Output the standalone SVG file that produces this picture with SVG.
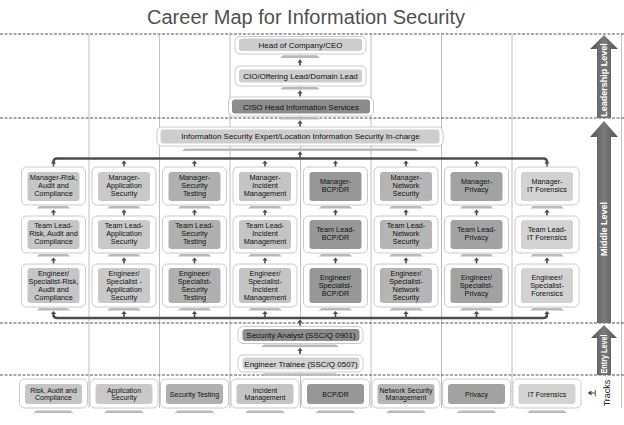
<svg xmlns="http://www.w3.org/2000/svg" xmlns:xlink="http://www.w3.org/1999/xlink" width="624" height="425" viewBox="0 0 624 425">
<defs>
<style>
.o{fill:#fff;stroke:#bdbdbd;stroke-width:0.8}
.t{font-family:"Liberation Sans",Arial,sans-serif;font-size:7.3px;fill:#111;text-anchor:middle}
.tb{font-family:"Liberation Sans",Arial,sans-serif;font-size:8px;fill:#111;text-anchor:middle}
.tr{font-family:"Liberation Sans",Arial,sans-serif;font-size:7px;fill:#111;text-anchor:middle}
.lv{font-family:"Liberation Sans",Arial,sans-serif;font-size:9px;font-weight:bold;fill:#fff;text-anchor:middle}
.ped{fill:#b9b9b9}
.ar{fill:#4a4a4a}
.vl{stroke:#b0b0b0;stroke-width:0.8}
.dl{stroke:#555;stroke-width:1;stroke-dasharray:3,1.5}
.tk{fill:none;stroke:#4d4d4d;stroke-width:2.4}
.c1{fill:#c6c6c6}.c2{fill:#c9c9c9}.c3{fill:#b0b0b0}.c4{fill:#c4c4c4}
.c5{fill:#979797}.c6{fill:#b5b5b5}.c7{fill:#a2a2a2}.c8{fill:#d2d2d2}
.lt{fill:#cdcdcd}.dk{fill:#8c8c8c}
</style>
<path id="ua" d="M0,0 L2.7,3 H0.8 V6 H-0.8 V3 H-2.7 Z"/>
<polygon id="pd" points="-14,0 14,0 17,2.5 -17,2.5"/>
<polygon id="pdt" points="-17,0 17,0 20,2.5 -20,2.5"/>
<linearGradient id="ag" x1="0" y1="0" x2="1" y2="0">
<stop offset="0" stop-color="#555"/><stop offset="0.5" stop-color="#7a7a7a"/><stop offset="1" stop-color="#555"/>
</linearGradient>
</defs>
<rect width="624" height="425" fill="#fff"/>
<text x="306" y="24" font-family="'Liberation Sans',Arial,sans-serif" font-size="20" fill="#505050" text-anchor="middle">Career Map for Information Security</text>

<g id="grid">
<line class="vl" x1="89" y1="34" x2="89" y2="408"/>
<line class="vl" x1="159.5" y1="34" x2="159.5" y2="408"/>
<line class="vl" x1="230" y1="34" x2="230" y2="408"/>
<line class="vl" x1="300.5" y1="34" x2="300.5" y2="408"/>
<line class="vl" x1="371" y1="34" x2="371" y2="408"/>
<line class="vl" x1="441.5" y1="34" x2="441.5" y2="408"/>
<line class="vl" x1="512" y1="34" x2="512" y2="408"/>
<line class="vl" x1="621.5" y1="34" x2="621.5" y2="408"/>
<line class="dl" x1="0" y1="34" x2="624" y2="34"/>
<line class="dl" x1="0" y1="118" x2="624" y2="118"/>
<line class="dl" x1="0" y1="323" x2="624" y2="323"/>
<line class="dl" x1="0" y1="375" x2="624" y2="375"/>
</g>

<g id="levels">
<polygon fill="url(#ag)" points="604,35 618,49 611,49 611,118 597,118 597,49 590,49"/>
<polygon fill="url(#ag)" points="604,121 618,137 611,137 611,323 597,323 597,137 590,137"/>
<polygon fill="url(#ag)" points="604,325 617,338 611,338 611,375 597,375 597,338 591,338"/>
<text class="lv" transform="translate(607.2,80) rotate(-90)">Leadership Level</text>
<text class="lv" transform="translate(607.2,229) rotate(-90)">Middle Level</text>
<text class="lv" transform="translate(606.8,354) rotate(-90)" font-size="8" textLength="39" lengthAdjust="spacingAndGlyphs">Entry Level</text>
<text transform="translate(609.5,393) rotate(-90)" font-family="'Liberation Sans',Arial,sans-serif" font-size="9" fill="#222" text-anchor="middle">Tracks</text>
<path class="ar" d="M587.5,393 L591.5,390.5 V392.5 H595 V393.5 H591.5 V395.5 Z"/>
<line x1="595.3" y1="390" x2="595.3" y2="396.5" stroke="#4a4a4a" stroke-width="0.9"/>
</g>

<g id="connectors">
<path class="tk" d="M53.5,162 Q53.5,158.5 57,158.5 H543.5 Q547,158.5 547,162"/>
<path class="tk" d="M53.5,314.5 Q53.5,318 57,318 H543.5 Q547,318 547,314.5"/>
<use href="#ua" class="ar" x="300" y="59.5"/>
<use href="#ua" class="ar" x="300" y="90.5"/>
<use href="#ua" class="ar" x="300" y="120.5"/>
<use href="#ua" class="ar" x="300" y="151.5"/>
<use href="#ua" class="ar" x="300" y="319.5"/>
<use href="#ua" class="ar" x="300" y="348"/>
<use href="#ua" class="ar" x="53.5" y="160.5"/><use href="#ua" class="ar" x="124" y="160.5"/><use href="#ua" class="ar" x="194.5" y="160.5"/><use href="#ua" class="ar" x="265" y="160.5"/><use href="#ua" class="ar" x="335.5" y="160.5"/><use href="#ua" class="ar" x="406" y="160.5"/><use href="#ua" class="ar" x="476.5" y="160.5"/><use href="#ua" class="ar" x="547" y="160.5"/>
<use href="#ua" class="ar" x="53.5" y="209.5"/><use href="#ua" class="ar" x="124" y="209.5"/><use href="#ua" class="ar" x="194.5" y="209.5"/><use href="#ua" class="ar" x="265" y="209.5"/><use href="#ua" class="ar" x="335.5" y="209.5"/><use href="#ua" class="ar" x="406" y="209.5"/><use href="#ua" class="ar" x="476.5" y="209.5"/><use href="#ua" class="ar" x="547" y="209.5"/>
<use href="#ua" class="ar" x="53.5" y="257.5"/><use href="#ua" class="ar" x="124" y="257.5"/><use href="#ua" class="ar" x="194.5" y="257.5"/><use href="#ua" class="ar" x="265" y="257.5"/><use href="#ua" class="ar" x="335.5" y="257.5"/><use href="#ua" class="ar" x="406" y="257.5"/><use href="#ua" class="ar" x="476.5" y="257.5"/><use href="#ua" class="ar" x="547" y="257.5"/>
<use href="#ua" class="ar" x="53.5" y="311"/><use href="#ua" class="ar" x="124" y="311"/><use href="#ua" class="ar" x="194.5" y="311"/><use href="#ua" class="ar" x="265" y="311"/><use href="#ua" class="ar" x="335.5" y="311"/><use href="#ua" class="ar" x="406" y="311"/><use href="#ua" class="ar" x="476.5" y="311"/><use href="#ua" class="ar" x="547" y="311"/>
</g>

<g id="ceo">
<rect class="o" x="235" y="36.5" width="131" height="17.5" rx="5"/>
<rect class="lt" x="239" y="38.5" width="123" height="12.5" rx="3"/>
<text class="tb" x="300.5" y="47.8">Head of Company/CEO</text>
<polygon class="ped" points="283,55.3 317,55.3 320,58 280,58"/>
</g>
<g id="cio">
<rect class="o" x="235" y="66" width="131" height="20" rx="5"/>
<rect class="lt" x="239" y="69.5" width="123" height="13" rx="3"/>
<text class="tb" x="300.5" y="78.8">CIO/Offering Lead/Domain Lead</text>
<polygon class="ped" points="283,87 317,87 320,89.5 280,89.5"/>
</g>
<g id="ciso">
<rect class="o" x="228.5" y="97" width="145" height="19" rx="5"/>
<rect class="dk" x="232" y="99.5" width="138" height="14" rx="3"/>
<text class="tb" x="301" y="109.5">CISO Head Information Services</text>
<polygon class="ped" points="283,117 317,117 320,119.5 280,119.5"/>
</g>
<g id="expert">
<rect class="o" x="157" y="127" width="286" height="19" rx="5"/>
<rect class="lt" x="160.5" y="129.5" width="279" height="14" rx="3"/>
<text class="tb" x="300.5" y="139.3">Information Security Expert/Location Information Security In-charge</text>
<polygon class="ped" points="185,148.5 415,148.5 418,151 182,151"/>
</g>

<g id="col1">
<g id="mgr1"><rect class="o" x="21.5" y="167" width="64" height="38" rx="5"/><rect class="c1" x="27.5" y="172" width="52" height="29" rx="3"/>
<text class="t"><tspan x="53.5" y="180.3">Manager-Risk,</tspan><tspan x="53.5" y="188.1">Audit and</tspan><tspan x="53.5" y="195.9">Compliance</tspan></text><use href="#pd" class="ped" x="53.5" y="206"/></g>
<g id="tl1"><rect class="o" x="21.5" y="216" width="64" height="37" rx="5"/><rect class="c1" x="27.5" y="220" width="52" height="29" rx="3"/>
<text class="t"><tspan x="53.5" y="228.3">Team Lead-</tspan><tspan x="53.5" y="236.1">Risk, Audit and</tspan><tspan x="53.5" y="243.9">Compliance</tspan></text><use href="#pd" class="ped" x="53.5" y="254"/></g>
<g id="eng1"><rect class="o" x="21.5" y="264" width="64" height="43" rx="5"/><rect class="c1" x="27.5" y="268" width="52" height="35" rx="3"/>
<text class="t"><tspan x="53.5" y="276.4">Engineer/</tspan><tspan x="53.5" y="284.2">Specialist-Risk,</tspan><tspan x="53.5" y="292">Audit and</tspan><tspan x="53.5" y="299.8">Compliance</tspan></text><use href="#pd" class="ped" x="53.5" y="308"/></g>
</g>
<g id="col2">
<g id="mgr2"><rect class="o" x="92" y="167" width="64" height="38" rx="5"/><rect class="c2" x="98" y="172" width="52" height="29" rx="3"/>
<text class="t"><tspan x="124" y="180.3">Manager-</tspan><tspan x="124" y="188.1">Application</tspan><tspan x="124" y="195.9">Security</tspan></text><use href="#pd" class="ped" x="124" y="206"/></g>
<g id="tl2"><rect class="o" x="92" y="216" width="64" height="37" rx="5"/><rect class="c2" x="98" y="220" width="52" height="29" rx="3"/>
<text class="t"><tspan x="124" y="228.3">Team Lead-</tspan><tspan x="124" y="236.1">Application</tspan><tspan x="124" y="243.9">Security</tspan></text><use href="#pd" class="ped" x="124" y="254"/></g>
<g id="eng2"><rect class="o" x="92" y="264" width="64" height="43" rx="5"/><rect class="c2" x="98" y="268" width="52" height="35" rx="3"/>
<text class="t"><tspan x="124" y="276.4">Engineer/</tspan><tspan x="124" y="284.2">Specialist -</tspan><tspan x="124" y="292">Application</tspan><tspan x="124" y="299.8">Security</tspan></text><use href="#pd" class="ped" x="124" y="308"/></g>
</g>
<g id="col3">
<g id="mgr3"><rect class="o" x="162.5" y="167" width="64" height="38" rx="5"/><rect class="c3" x="168.5" y="172" width="52" height="29" rx="3"/>
<text class="t"><tspan x="194.5" y="180.3">Manager-</tspan><tspan x="194.5" y="188.1">Security</tspan><tspan x="194.5" y="195.9">Testing</tspan></text><use href="#pd" class="ped" x="194.5" y="206"/></g>
<g id="tl3"><rect class="o" x="162.5" y="216" width="64" height="37" rx="5"/><rect class="c3" x="168.5" y="220" width="52" height="29" rx="3"/>
<text class="t"><tspan x="194.5" y="228.3">Team Lead-</tspan><tspan x="194.5" y="236.1">Security</tspan><tspan x="194.5" y="243.9">Testing</tspan></text><use href="#pd" class="ped" x="194.5" y="254"/></g>
<g id="eng3"><rect class="o" x="162.5" y="264" width="64" height="43" rx="5"/><rect class="c3" x="168.5" y="268" width="52" height="35" rx="3"/>
<text class="t"><tspan x="194.5" y="276.4">Engineer/</tspan><tspan x="194.5" y="284.2">Specialist-</tspan><tspan x="194.5" y="292">Security</tspan><tspan x="194.5" y="299.8">Testing</tspan></text><use href="#pd" class="ped" x="194.5" y="308"/></g>
</g>
<g id="col4">
<g id="mgr4"><rect class="o" x="233" y="167" width="64" height="38" rx="5"/><rect class="c4" x="239" y="172" width="52" height="29" rx="3"/>
<text class="t"><tspan x="265" y="180.3">Manager-</tspan><tspan x="265" y="188.1">Incident</tspan><tspan x="265" y="195.9">Management</tspan></text><use href="#pd" class="ped" x="265" y="206"/></g>
<g id="tl4"><rect class="o" x="233" y="216" width="64" height="37" rx="5"/><rect class="c4" x="239" y="220" width="52" height="29" rx="3"/>
<text class="t"><tspan x="265" y="228.3">Team Lead-</tspan><tspan x="265" y="236.1">Incident</tspan><tspan x="265" y="243.9">Management</tspan></text><use href="#pd" class="ped" x="265" y="254"/></g>
<g id="eng4"><rect class="o" x="233" y="264" width="64" height="43" rx="5"/><rect class="c4" x="239" y="268" width="52" height="35" rx="3"/>
<text class="t"><tspan x="265" y="276.4">Engineer/</tspan><tspan x="265" y="284.2">Specialist-</tspan><tspan x="265" y="292">Incident</tspan><tspan x="265" y="299.8">Management</tspan></text><use href="#pd" class="ped" x="265" y="308"/></g>
</g>
<g id="col5">
<g id="mgr5"><rect class="o" x="303.5" y="167" width="64" height="38" rx="5"/><rect class="c5" x="309.5" y="172" width="52" height="29" rx="3"/>
<text class="t"><tspan x="335.5" y="184.2">Manager-</tspan><tspan x="335.5" y="192">BCP/DR</tspan></text><use href="#pd" class="ped" x="335.5" y="206"/></g>
<g id="tl5"><rect class="o" x="303.5" y="216" width="64" height="37" rx="5"/><rect class="c5" x="309.5" y="220" width="52" height="29" rx="3"/>
<text class="t"><tspan x="335.5" y="232.2">Team Lead-</tspan><tspan x="335.5" y="240">BCP/DR</tspan></text><use href="#pd" class="ped" x="335.5" y="254"/></g>
<g id="eng5"><rect class="o" x="303.5" y="264" width="64" height="43" rx="5"/><rect class="c5" x="309.5" y="268" width="52" height="35" rx="3"/>
<text class="t"><tspan x="335.5" y="280.3">Engineer/</tspan><tspan x="335.5" y="288.1">Specialist-</tspan><tspan x="335.5" y="295.9">BCP/DR</tspan></text><use href="#pd" class="ped" x="335.5" y="308"/></g>
</g>
<g id="col6">
<g id="mgr6"><rect class="o" x="374" y="167" width="64" height="38" rx="5"/><rect class="c6" x="380" y="172" width="52" height="29" rx="3"/>
<text class="t"><tspan x="406" y="180.3">Manager-</tspan><tspan x="406" y="188.1">Network</tspan><tspan x="406" y="195.9">Security</tspan></text><use href="#pd" class="ped" x="406" y="206"/></g>
<g id="tl6"><rect class="o" x="374" y="216" width="64" height="37" rx="5"/><rect class="c6" x="380" y="220" width="52" height="29" rx="3"/>
<text class="t"><tspan x="406" y="228.3">Team Lead-</tspan><tspan x="406" y="236.1">Network</tspan><tspan x="406" y="243.9">Security</tspan></text><use href="#pd" class="ped" x="406" y="254"/></g>
<g id="eng6"><rect class="o" x="374" y="264" width="64" height="43" rx="5"/><rect class="c6" x="380" y="268" width="52" height="35" rx="3"/>
<text class="t"><tspan x="406" y="276.4">Engineer/</tspan><tspan x="406" y="284.2">Specialist-</tspan><tspan x="406" y="292">Network</tspan><tspan x="406" y="299.8">Security</tspan></text><use href="#pd" class="ped" x="406" y="308"/></g>
</g>
<g id="col7">
<g id="mgr7"><rect class="o" x="444.5" y="167" width="64" height="38" rx="5"/><rect class="c7" x="450.5" y="172" width="52" height="29" rx="3"/>
<text class="t"><tspan x="476.5" y="184.2">Manager-</tspan><tspan x="476.5" y="192">Privacy</tspan></text><use href="#pd" class="ped" x="476.5" y="206"/></g>
<g id="tl7"><rect class="o" x="444.5" y="216" width="64" height="37" rx="5"/><rect class="c7" x="450.5" y="220" width="52" height="29" rx="3"/>
<text class="t"><tspan x="476.5" y="232.2">Team Lead-</tspan><tspan x="476.5" y="240">Privacy</tspan></text><use href="#pd" class="ped" x="476.5" y="254"/></g>
<g id="eng7"><rect class="o" x="444.5" y="264" width="64" height="43" rx="5"/><rect class="c7" x="450.5" y="268" width="52" height="35" rx="3"/>
<text class="t"><tspan x="476.5" y="280.3">Engineer/</tspan><tspan x="476.5" y="288.1">Specialist-</tspan><tspan x="476.5" y="295.9">Privacy</tspan></text><use href="#pd" class="ped" x="476.5" y="308"/></g>
</g>
<g id="col8">
<g id="mgr8"><rect class="o" x="515" y="167" width="64" height="38" rx="5"/><rect class="c8" x="521" y="172" width="52" height="29" rx="3"/>
<text class="t"><tspan x="547" y="184.2">Manager-</tspan><tspan x="547" y="192">IT Forensics</tspan></text><use href="#pd" class="ped" x="547" y="206"/></g>
<g id="tl8"><rect class="o" x="515" y="216" width="64" height="37" rx="5"/><rect class="c8" x="521" y="220" width="52" height="29" rx="3"/>
<text class="t"><tspan x="547" y="232.2">Team Lead-</tspan><tspan x="547" y="240">IT Forensics</tspan></text><use href="#pd" class="ped" x="547" y="254"/></g>
<g id="eng8"><rect class="o" x="515" y="264" width="64" height="43" rx="5"/><rect class="c8" x="521" y="268" width="52" height="35" rx="3"/>
<text class="t"><tspan x="547" y="280.3">Engineer/</tspan><tspan x="547" y="288.1">Specialist-</tspan><tspan x="547" y="295.9">Forensics</tspan></text><use href="#pd" class="ped" x="547" y="308"/></g>
</g>

<g id="analyst">
<rect class="o" x="238" y="326.5" width="125" height="17" rx="5"/>
<rect class="dk" x="242.5" y="329" width="117" height="12" rx="3"/>
<text class="tb" x="301" y="338.2">Security Analyst (SSC/Q 0901)</text>
<polygon class="ped" points="264,344.5 336,344.5 339,347 261,347"/>
</g>
<g id="trainee">
<rect class="o" x="238" y="355" width="125" height="17" rx="5"/>
<rect class="c8" x="242.5" y="357.5" width="117" height="12" rx="3"/>
<text class="tb" x="301" y="366.7">Engineer Trainee (SSC/Q 0507)</text>
<polygon class="ped" points="264,373.3 336,373.3 339,375.8 261,375.8"/>
</g>

<g id="tracks">
<g id="tr1"><rect class="o" x="19.5" y="379" width="68" height="29" rx="5"/><rect class="c1" x="25" y="384" width="57" height="20" rx="3"/>
<text class="tr"><tspan x="53.5" y="392.8">Risk, Audit and</tspan><tspan x="53.5" y="400.3">Compliance</tspan></text><use href="#pdt" class="ped" x="53.5" y="410.5"/></g>
<g id="tr2"><rect class="o" x="90" y="379" width="68" height="29" rx="5"/><rect class="c2" x="95.5" y="384" width="57" height="20" rx="3"/>
<text class="tr"><tspan x="124" y="392.8">Application</tspan><tspan x="124" y="400.3">Security</tspan></text><use href="#pdt" class="ped" x="124" y="410.5"/></g>
<g id="tr3"><rect class="o" x="160.5" y="379" width="68" height="29" rx="5"/><rect class="c3" x="166" y="384" width="57" height="20" rx="3"/>
<text class="tr" x="194.5" y="396.5">Security Testing</text><use href="#pdt" class="ped" x="194.5" y="410.5"/></g>
<g id="tr4"><rect class="o" x="231" y="379" width="68" height="29" rx="5"/><rect class="c4" x="236.5" y="384" width="57" height="20" rx="3"/>
<text class="tr"><tspan x="265" y="392.8">Incident</tspan><tspan x="265" y="400.3">Management</tspan></text><use href="#pdt" class="ped" x="265" y="410.5"/></g>
<g id="tr5"><rect class="o" x="301.5" y="379" width="68" height="29" rx="5"/><rect class="c5" x="307" y="384" width="57" height="20" rx="3"/>
<text class="tr" x="335.5" y="396.5">BCP/DR</text><use href="#pdt" class="ped" x="335.5" y="410.5"/></g>
<g id="tr6"><rect class="o" x="372" y="379" width="68" height="29" rx="5"/><rect class="c6" x="377.5" y="384" width="57" height="20" rx="3"/>
<text class="tr"><tspan x="406" y="392.8">Network Security</tspan><tspan x="406" y="400.3">Management</tspan></text><use href="#pdt" class="ped" x="406" y="410.5"/></g>
<g id="tr7"><rect class="o" x="442.5" y="379" width="68" height="29" rx="5"/><rect class="c7" x="448" y="384" width="57" height="20" rx="3"/>
<text class="tr" x="476.5" y="396.5">Privacy</text><use href="#pdt" class="ped" x="476.5" y="410.5"/></g>
<g id="tr8"><rect class="o" x="513" y="379" width="68" height="29" rx="5"/><rect class="c8" x="518.5" y="384" width="57" height="20" rx="3"/>
<text class="tr" x="547" y="396.5">IT Forensics</text><use href="#pdt" class="ped" x="547" y="410.5"/></g>
</g>
</svg>
